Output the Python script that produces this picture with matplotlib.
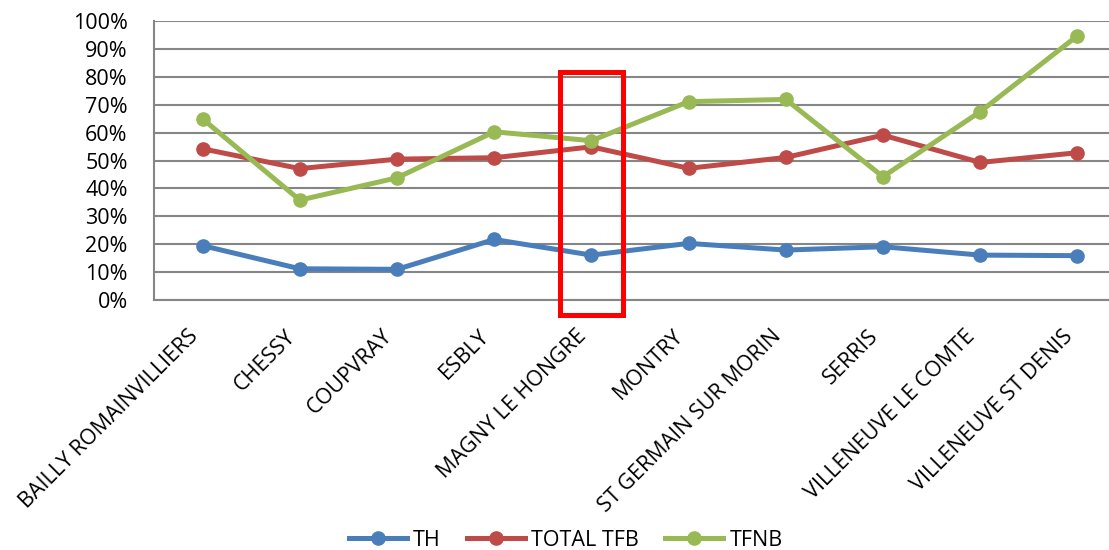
import matplotlib.pyplot as plt
from matplotlib.patches import Rectangle
from matplotlib.ticker import PercentFormatter
from matplotlib.transforms import ScaledTranslation

# Communes and rates (fractions)
communes = ["BAILLY ROMAINVILLIERS", "CHESSY", "COUPVRAY", "ESBLY", "MAGNY LE HONGRE",
            "MONTRY", "ST GERMAIN SUR MORIN", "SERRIS", "VILLENEUVE LE COMTE",
            "VILLENEUVE ST DENIS"]
th = [0.195, 0.112, 0.110, 0.217, 0.161, 0.203, 0.179, 0.191, 0.161, 0.159]
total_tfb = [0.542, 0.471, 0.505, 0.510, 0.549, 0.472, 0.511, 0.591, 0.493, 0.528]
tfnb = [0.649, 0.358, 0.438, 0.603, 0.571, 0.711, 0.719, 0.442, 0.675, 0.947]
highlight = "MAGNY LE HONGRE"

plt.rcParams['font.family'] = ['Open Sans', 'DejaVu Sans']

fig = plt.figure(figsize=(11.09, 5.5), dpi=100)
ax = fig.add_axes([0.1389, 0.4545, 0.8764, 0.5073])

x = range(len(communes))
ax.plot(x, th, color="#4A7EBB", lw=3.6, marker="o", ms=9.5, label="TH")
ax.plot(x, total_tfb, color="#BE4B48", lw=3.6, marker="o", ms=9.5, label="TOTAL TFB")
ax.plot(x, tfnb, color="#98B954", lw=3.6, marker="o", ms=9.5, label="TFNB")

ax.set_xlim(-0.5, len(communes) - 0.5)
ax.set_ylim(0, 1)
ax.set_yticks([i / 10 for i in range(11)])
ax.yaxis.set_major_formatter(PercentFormatter(1.0, decimals=0))
ax.grid(axis="y", color="#868686", lw=1.5)
ax.set_axisbelow(True)
for s in ["top", "right"]:
    ax.spines[s].set_visible(False)
for s in ["left", "bottom"]:
    ax.spines[s].set_color("#868686")
    ax.spines[s].set_linewidth(1.5)

ax.set_xticks(list(x))
ax.set_xticklabels(communes, rotation=45, ha="right", va="center",
                   rotation_mode="anchor", fontsize=15.5)
ax.tick_params(axis="x", length=0, pad=24)
ax.tick_params(axis="y", length=0, pad=19, labelsize=15.5)
shift = ScaledTranslation(-8 / 100, 0, fig.dpi_scale_trans)
for lbl in ax.get_xticklabels():
    lbl.set_transform(lbl.get_transform() + shift)

# red highlight box
hi = communes.index(highlight)
ax.add_patch(Rectangle((hi - 0.32, -0.054), 0.65, 0.871, fill=False,
                       edgecolor="#FF0000", lw=3.6, clip_on=False, zorder=5))

fig.legend(loc="center", bbox_to_anchor=(0.51, 0.018), ncol=3, frameon=False,
           fontsize=15.5, handlelength=2.7, columnspacing=1.2, handletextpad=0.3)

plt.savefig("out.png", dpi=100)
